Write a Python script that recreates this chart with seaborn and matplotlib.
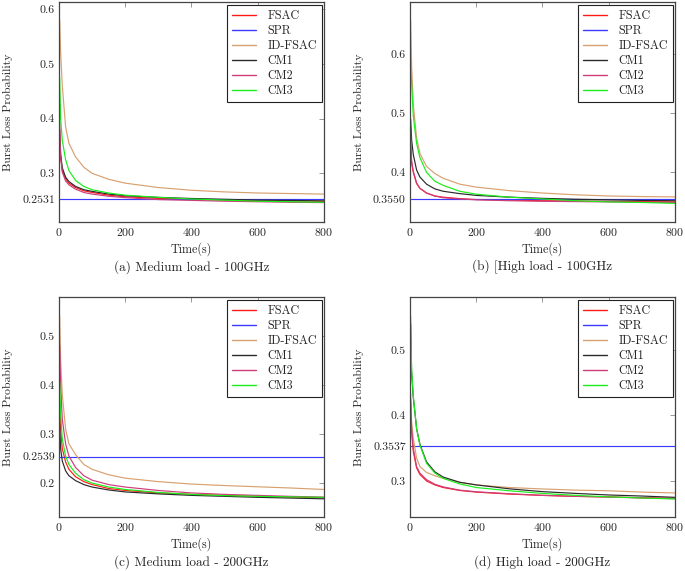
import numpy as np
import pandas as pd
import matplotlib
matplotlib.use("Agg")
import matplotlib.pyplot as plt
import seaborn as sns

# time samples (s)
time_s = [2, 5, 10, 20, 30, 50, 75, 100, 150, 200, 300, 400, 500, 600, 700, 800]
methods = ['FSAC', 'SPR', 'ID-FSAC', 'CM1', 'CM2', 'CM3']

# (a) Medium load - 100GHz
a_fsac = [0.370, 0.330, 0.305, 0.290, 0.282, 0.274, 0.268, 0.265, 0.260, 0.257, 0.254, 0.2525, 0.251, 0.250, 0.2495, 0.249]
a_spr = 0.2531
a_idfsac = [0.580, 0.520, 0.460, 0.385, 0.355, 0.330, 0.311, 0.300, 0.289, 0.282, 0.274, 0.269, 0.266, 0.264, 0.263, 0.262]
a_cm1 = [0.380, 0.335, 0.310, 0.293, 0.285, 0.276, 0.270, 0.267, 0.262, 0.259, 0.256, 0.254, 0.2525, 0.251, 0.2505, 0.2495]
a_cm2 = [0.395, 0.330, 0.302, 0.286, 0.279, 0.271, 0.265, 0.262, 0.258, 0.2555, 0.252, 0.2505, 0.249, 0.248, 0.247, 0.2465]
a_cm3 = [0.475, 0.400, 0.360, 0.325, 0.305, 0.287, 0.276, 0.270, 0.264, 0.260, 0.256, 0.253, 0.251, 0.249, 0.248, 0.247]

# (b) High load - 100GHz
b_fsac = [0.435, 0.415, 0.400, 0.381, 0.373, 0.365, 0.360, 0.358, 0.3555, 0.354, 0.353, 0.352, 0.3515, 0.351, 0.3505, 0.350]
b_spr = 0.3550
b_idfsac = [0.657, 0.580, 0.515, 0.458, 0.432, 0.410, 0.398, 0.390, 0.380, 0.375, 0.369, 0.365, 0.362, 0.360, 0.359, 0.3585]
b_cm1 = [0.490, 0.455, 0.430, 0.404, 0.392, 0.380, 0.372, 0.368, 0.364, 0.361, 0.358, 0.356, 0.3545, 0.3535, 0.3525, 0.352]
b_cm2 = [0.469, 0.420, 0.402, 0.382, 0.373, 0.365, 0.360, 0.357, 0.355, 0.3535, 0.352, 0.351, 0.3505, 0.350, 0.3495, 0.349]
b_cm3 = [0.590, 0.550, 0.495, 0.449, 0.425, 0.400, 0.385, 0.378, 0.368, 0.363, 0.358, 0.355, 0.352, 0.350, 0.349, 0.3475]

# (c) Medium load - 200GHz
c_fsac = [0.368, 0.310, 0.270, 0.243, 0.228, 0.213, 0.203, 0.197, 0.189, 0.185, 0.180, 0.177, 0.175, 0.173, 0.1715, 0.170]
c_spr = 0.2539
c_idfsac = [0.541, 0.450, 0.380, 0.310, 0.280, 0.258, 0.238, 0.228, 0.217, 0.210, 0.203, 0.198, 0.195, 0.1925, 0.190, 0.187]
c_cm1 = [0.319, 0.270, 0.245, 0.225, 0.215, 0.205, 0.197, 0.192, 0.186, 0.182, 0.178, 0.175, 0.173, 0.171, 0.1695, 0.168]
c_cm2 = [0.480, 0.400, 0.330, 0.280, 0.255, 0.232, 0.215, 0.206, 0.197, 0.192, 0.185, 0.180, 0.177, 0.175, 0.173, 0.1715]
c_cm3 = [0.407, 0.340, 0.290, 0.255, 0.238, 0.220, 0.207, 0.200, 0.192, 0.187, 0.181, 0.177, 0.1745, 0.173, 0.172, 0.171]

# (d) High load - 200GHz
d_fsac = [0.419, 0.375, 0.345, 0.320, 0.310, 0.300, 0.294, 0.290, 0.2855, 0.283, 0.280, 0.278, 0.2765, 0.2755, 0.2745, 0.2735]
d_spr = 0.3537
d_idfsac = [0.434, 0.390, 0.365, 0.335, 0.322, 0.313, 0.308, 0.304, 0.298, 0.294, 0.290, 0.2878, 0.286, 0.285, 0.283, 0.2817]
d_cm1 = [0.540, 0.465, 0.428, 0.380, 0.356, 0.329, 0.314, 0.306, 0.298, 0.294, 0.288, 0.2837, 0.281, 0.2786, 0.277, 0.275]
d_cm2 = [0.425, 0.380, 0.350, 0.322, 0.312, 0.302, 0.295, 0.291, 0.286, 0.2835, 0.2805, 0.278, 0.2765, 0.2755, 0.274, 0.273]
d_cm3 = [0.552, 0.470, 0.430, 0.380, 0.355, 0.327, 0.312, 0.304, 0.2955, 0.290, 0.285, 0.281, 0.278, 0.2757, 0.274, 0.2725]

colors = {'FSAC': '#ff1a1a', 'SPR': '#3a3aff', 'ID-FSAC': '#d9a070',
          'CM1': '#2a2a2a', 'CM2': '#cc3d7a', 'CM3': '#1aee1a'}

panels = [
    ('(a) Medium load - 100GHz', [a_fsac, a_spr, a_idfsac, a_cm1, a_cm2, a_cm3],
     (0.211, 0.613), [0.3, 0.4, 0.5, 0.6]),
    ('(b) [High load - 100GHz', [b_fsac, b_spr, b_idfsac, b_cm1, b_cm2, b_cm3],
     (0.316, 0.688), [0.4, 0.5, 0.6]),
    ('(c) Medium load - 200GHz', [c_fsac, c_spr, c_idfsac, c_cm1, c_cm2, c_cm3],
     (0.131, 0.579), [0.2, 0.3, 0.4, 0.5]),
    ('(d) High load - 200GHz', [d_fsac, d_spr, d_idfsac, d_cm1, d_cm2, d_cm3],
     (0.245, 0.581), [0.3, 0.4, 0.5]),
]

sns.set_style('white')
plt.rcParams['font.family'] = ['cmr10', 'DejaVu Serif']
plt.rcParams['mathtext.fontset'] = 'cm'
plt.rcParams['axes.formatter.use_mathtext'] = True

fig = plt.figure(figsize=(6.85, 5.71), dpi=100)
positions = [(0.0861, 0.6112), (0.5985, 0.6112), (0.0861, 0.0946), (0.5985, 0.0946)]
caption_y = [0.532, 0.532, 0.016, 0.016]

for k, (caption, series, ylim, yticks) in enumerate(panels):
    ax = fig.add_axes([positions[k][0], positions[k][1], 0.3869, 0.3853])
    for name, vals in zip(methods, series):
        if np.isscalar(vals):
            vals = [vals] * len(time_s)
        sns.lineplot(x=time_s, y=vals, color=colors[name], label=name,
                     linewidth=0.85, ax=ax)
    spr_val = series[1]
    ticks = sorted(yticks + [spr_val])
    labels = [f'{v:.4f}' if v == spr_val else f'{v:g}' for v in ticks]
    ax.set_yticks(ticks)
    ax.set_yticklabels(labels)
    ax.set_xticks([0, 200, 400, 600, 800])
    ax.set_xlim(0, 800)
    ax.set_ylim(*ylim)
    ax.tick_params(direction='in', length=3.5, width=0.6, color='#888888',
                   labelsize=8.5, top=True, right=True, pad=3)
    for sp in ax.spines.values():
        sp.set_color('#444444')
        sp.set_linewidth(0.9)
    ax.set_xlabel('Time(s)', fontsize=8.7, labelpad=3)
    ax.set_ylabel('Burst Loss Probability', fontsize=8.5)
    ax.yaxis.set_label_coords(-0.175, 0.5)
    leg = ax.legend(loc='upper right', bbox_to_anchor=(0.993, 0.985), fontsize=8.7,
                    frameon=True, fancybox=False, edgecolor='#222222',
                    framealpha=1, handlelength=2.0, labelspacing=0.24,
                    borderpad=0.4, handletextpad=1.0, borderaxespad=0)
    leg.get_frame().set_linewidth(0.8)
    for line in leg.get_lines():
        line.set_linewidth(1.0)
    fig.text(positions[k][0] + 0.3869 / 2, caption_y[k], caption,
             ha='center', va='center', fontsize=9.5)

fig.savefig('out.png', dpi=100)
